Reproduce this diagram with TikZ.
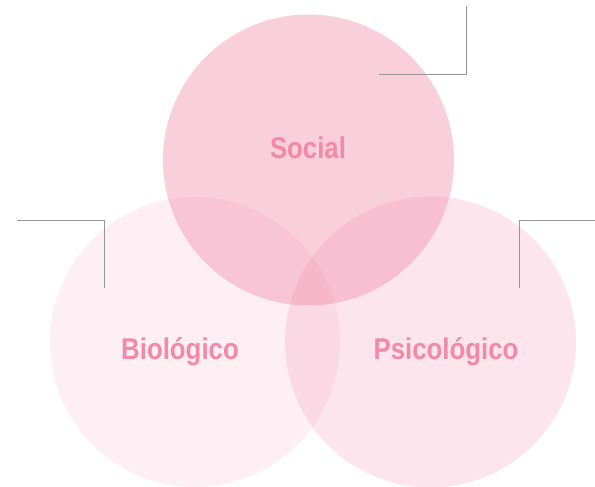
\documentclass[tikz,border=0pt]{standalone}
\usepackage{fontspec}
\newfontfamily\condfont[FakeStretch=0.86]{Liberation Sans}
\definecolor{basepink}{RGB}{239,127,163}
\definecolor{labelpink}{RGB}{242,137,168}
\definecolor{linegray}{RGB}{150,150,150}
\begin{document}
\begin{tikzpicture}[x=1pt,y=-1pt,
  circ/.style={fill=basepink,draw=none},
  lbl/.style={font=\condfont\bfseries\fontsize{30}{30}\selectfont,text=labelpink,inner sep=0pt,anchor=base},
  leader/.style={draw=linegray,line width=0.9pt}]
\useasboundingbox (0,0) rectangle (595,487);
\fill[circ,fill opacity=0.12] (195,342) circle (145);
\fill[circ,fill opacity=0.2] (430.5,342) circle (145.5);
\fill[circ,fill opacity=0.375] (308.5,160) circle (145.5);
\node[lbl] (social) at (308,158) {Social};
\node[lbl] (bio) at (180,359) {Biológico};
\node[lbl] (psico) at (446,359) {Psicológico};
\coordinate (a1) at (466,6);
\coordinate (a2) at (466,74);
\coordinate (a3) at (379,74);
\draw[leader] (a1) -- (a2) -- (a3);
\coordinate (b1) at (17,220.5);
\coordinate (b2) at (104,220.5);
\coordinate (b3) at (104,288);
\draw[leader] (b1) -- (b2) -- (b3);
\coordinate (c1) at (595,220.5);
\coordinate (c2) at (519,220.5);
\coordinate (c3) at (519,288);
\draw[leader] (c1) -- (c2) -- (c3);
\end{tikzpicture}
\end{document}
